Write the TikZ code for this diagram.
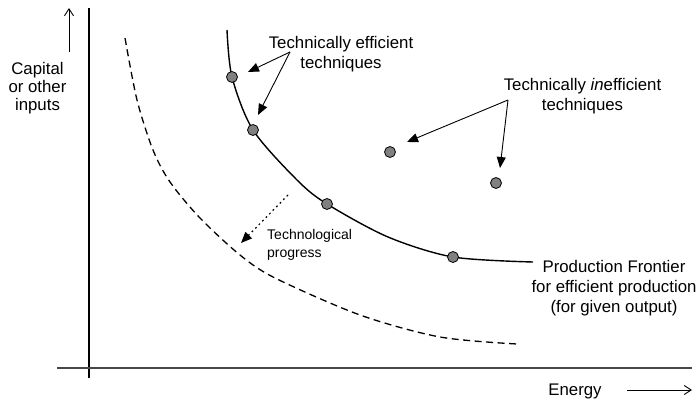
\documentclass[tikz,border=0pt]{standalone}
\usepackage{fontspec}
\setmainfont{Liberation Sans}
\usetikzlibrary{arrows.meta}
\definecolor{dotgray}{RGB}{128,128,128}
\begin{document}
\begin{tikzpicture}[x=1pt,y=-1pt,
  lbl/.style={inner sep=0pt, align=center, font=\fontsize{16.8}{20}\selectfont},
  smalllbl/.style={inner sep=0pt, align=left, font=\fontsize{14}{18}\selectfont},
  dot/.style={circle, draw=black, line width=0.8pt, fill=dotgray, minimum size=11pt, inner sep=0pt},
  ptr/.style={line width=0.9pt, -{Triangle[length=11pt,width=9pt]}},
  axisline/.style={line width=1.3pt},
  openarrow/.style={line width=0.9pt, -{Straight Barb[length=7pt,width=9pt]}},
  frontier/.style={line width=1.4pt},
  newfrontier/.style={line width=1.3pt, dash pattern=on 7pt off 4.5pt},
  progressarrow/.style={line width=1.2pt, dash pattern=on 1.8pt off 3.2pt, -{Triangle[length=11pt,width=9pt]}}
]
\useasboundingbox (0,0) rectangle (698,401);

% axes
\coordinate (yb) at (89,378);
\coordinate (yt) at (89,8);
\draw[axisline] (yb) -- (yt);
\coordinate (xl) at (57,368);
\coordinate (xr) at (692,368);
\draw[axisline, draw=black!72] (xl) -- (xr);

% axis direction arrows and labels
\coordinate (ca0) at (69,52);
\coordinate (ca1) at (69,8);
\draw[openarrow] (ca0) -- (ca1);
\node[lbl, font=\fontsize{16.8}{18.2}\selectfont] (cap) at (37.5,88) {Capital\\or other\\inputs};

\coordinate (ea0) at (627,390);
\coordinate (ea1) at (692,390);
\draw[openarrow] (ea0) -- (ea1);
\node[lbl] (energy) at (575,391.5) {Energy};

% curves
\draw[newfrontier] plot[smooth] coordinates {(125,38) (137,100) (153,150) (170,182) (200,218) (240,255) (275,278) (360,315) (440,337) (517,344)};
\draw[frontier] plot[smooth] coordinates {(227,30) (232,77) (253,130) (297,180) (327,204) (388,237) (453,257) (533,262)};

% dots
\node[dot] (d1) at (232,77) {};
\node[dot] (d2) at (253,130) {};
\node[dot] (d3) at (327,204) {};
\node[dot] (d4) at (453,257) {};
\node[dot] (i1) at (390,152) {};
\node[dot] (i2) at (496,183) {};

% labels
\node[lbl] (eff) at (341,54.5) {Technically efficient\\techniques};
\node[lbl] (ineff) at (582.5,96) {Technically \textit{in}efficient\\techniques};
\node[lbl] (pf) at (614,288.5) {Production Frontier\\for efficient production\\(for given output)};
\node[smalllbl, anchor=west] (tp) at (267,245) {Technological\\progress};

% pointer arrows
\coordinate (es) at (290,52);
\coordinate (ee1) at (248,72);
\coordinate (ee2) at (258,115);
\draw[ptr] (es) -- (ee1);
\draw[ptr] (es) -- (ee2);

\coordinate (is) at (508,100);
\coordinate (ie1) at (407,142);
\coordinate (ie2) at (500,168);
\draw[ptr] (is) -- (ie1);
\draw[ptr] (is) -- (ie2);

\coordinate (ps) at (288,195);
\coordinate (pe) at (241,243);
\draw[progressarrow] (ps) -- (pe);
\end{tikzpicture}
\end{document}
